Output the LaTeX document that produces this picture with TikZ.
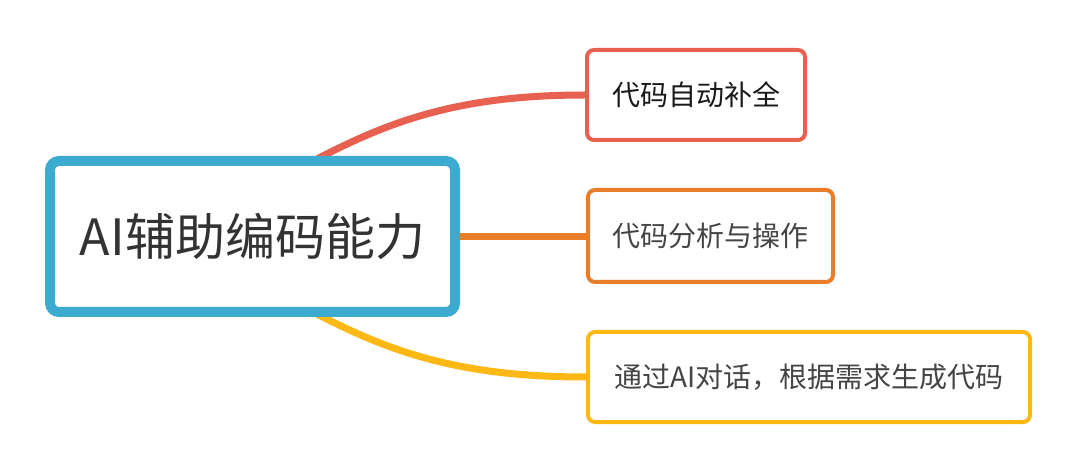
\documentclass[tikz,border=0pt]{standalone}
\usepackage{fontspec}
\newfontfamily\cjk{Noto Sans CJK SC}
\usetikzlibrary{backgrounds}
\definecolor{cblue}{HTML}{3DAAD0}
\definecolor{cred}{HTML}{E8604F}
\definecolor{corange}{HTML}{E87E2A}
\definecolor{cyellow}{HTML}{FDB813}
\definecolor{ctext}{HTML}{333333}
\definecolor{csub}{HTML}{444444}
\begin{document}
\begin{tikzpicture}[x=1pt,y=-1pt,
  mainbox/.style={draw=cblue,line width=10pt,rounded corners=9pt,fill=white,
    minimum width=405pt,minimum height=151pt,inner sep=0pt,
    font=\cjk\fontsize{50}{58}\selectfont,text=ctext},
  subbox/.style={line width=4pt,rounded corners=7pt,fill=white,
    minimum height=90pt,inner sep=0pt,
    font=\cjk\fontsize{28}{33}\selectfont,text=csub},
  link/.style={line width=7pt}]
\useasboundingbox (0,0) rectangle (1080,473);
\node[mainbox] (main) at (252.5,236.5) {AI辅助编码能力};
\node[subbox,draw=cred,minimum width=218pt,text=black!90] (b1) at (696,95) {代码自动补全};
\node[subbox,draw=corange,minimum width=245pt,minimum height=92pt] (b2) at (710.5,236) {代码分析与操作};
\node[subbox,draw=cyellow,minimum width=442pt] (b3) at (809,377) {通过AI对话，根据需求生成代码};
\coordinate (r1) at (300,168);
\coordinate (r3) at (300,305);
\begin{scope}[on background layer]
\fill[white] (0,0) rectangle (1080,473);
\draw[link,cred] (b1.west) .. controls (450,95) and (380,125) .. (r1);
\draw[link,corange] (main.east) -- (b2.west |- main.east);
\draw[link,cyellow] (b3.west) .. controls (450,377) and (380,348) .. (r3);
\end{scope}
\end{tikzpicture}
\end{document}
